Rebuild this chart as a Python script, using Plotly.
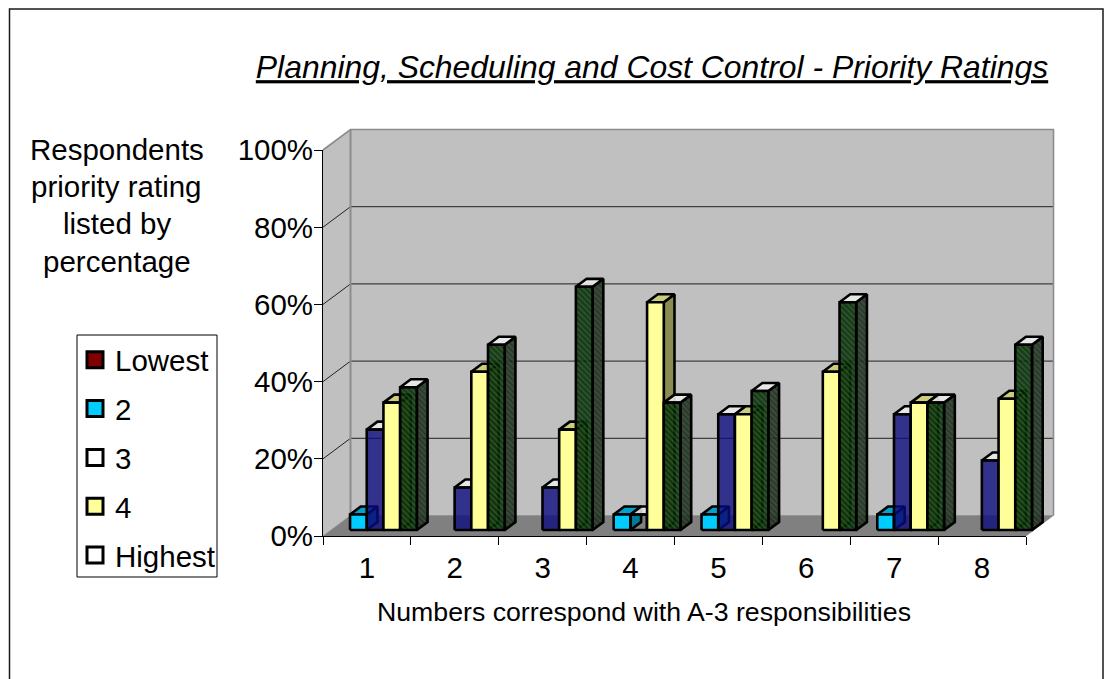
import plotly.graph_objects as go

# Chart content
title_text = "Planning, Scheduling and Cost Control - Priority Ratings"
y_title_lines = ["Respondents", "priority rating", "listed by", "percentage"]
x_title_text = "Numbers correspond with A-3 responsibilities"
categories = ["1", "2", "3", "4", "5", "6", "7", "8"]
pct_ticks = [0, 20, 40, 60, 80, 100]
series_names = ["Lowest", "2", "3", "4", "Highest"]

# Percentage of respondents per responsibility; None means no bar
lowest = [None] * 8
rating_2 = [4, None, None, 4, 4, None, 4, None]
rating_3 = [26, 11, 11, None, 30, None, 30, 18]
rating_3_hollow = [None, None, None, 4, None, None, None, None]
rating_4 = [33, 41, 26, 59, 30, 41, 33, 34]
highest = [37, 48, 63, 33, 36, 59, 33, 48]

FONT = "Liberation Sans"
W, H = 1104, 679

# Pixel placement of the front plane of the 3-D box
LEFT, RIGHT, BOTTOM, TOP = 323, 1026, 536, 150
px_per_cat = (RIGHT - LEFT) / len(categories)
px_per_pct = (BOTTOM - TOP) / 100

# Depth of the box, in axis units
DEPTH_X = 27.5 / px_per_cat
DEPTH_Y = 20.5 / px_per_pct

# Bars sit part way into the box
BAR_W = 16.7 / px_per_cat
BAR_START = 0.026
BAR_D0 = 0.293
BAR_D1 = 0.683
EDGE = 2.6


def proj(x, pct, d=0.0):
    """Oblique projection of a point at depth d (0 front, 1 back)."""
    return x + d * DEPTH_X, pct + d * DEPTH_Y


def polys(shapes):
    """Join polygons into one coordinate pair, separated by gaps."""
    xs, ys = [], []
    for shape in shapes:
        closed = list(shape) + [shape[0]]
        xs += [p[0] for p in closed] + [None]
        ys += [p[1] for p in closed] + [None]
    return xs, ys


fig = go.Figure()


def face(shapes, fill, line="#000000", width=EDGE, pattern=None):
    xs, ys = polys(shapes)
    fig.add_trace(go.Scatter(
        x=xs, y=ys, mode="lines", fill="toself", fillcolor=fill,
        fillpattern=pattern, line=dict(color=line, width=width),
        hoverinfo="skip", showlegend=False,
    ))


def wire(points, color, width):
    fig.add_trace(go.Scatter(
        x=[p[0] for p in points], y=[p[1] for p in points], mode="lines",
        line=dict(color=color, width=width), hoverinfo="skip", showlegend=False,
    ))


# Walls and floor
n = len(categories)
face([[proj(0, 0), proj(0, 0, 1), proj(0, 100, 1), proj(0, 100)]], "#c0c0c0", "#c0c0c0", 0.5)
face([[proj(0, 0, 1), proj(n, 0, 1), proj(n, 100, 1), proj(0, 100, 1)]], "#c0c0c0", "#c0c0c0", 0.5)
face([[proj(0, 0), proj(n, 0), proj(n, 0, 1), proj(0, 0, 1)]], "#808080", "#808080", 0.5)

for t in pct_ticks[1:-1]:
    wire([proj(0, t), proj(0, t, 1), proj(n, t, 1)], "#222222", 1)

wire([proj(0, 100), proj(0, 100, 1), proj(n, 100, 1), proj(n, 0, 1)], "#8c8c8c", 1.6)
wire([proj(0, 100, 1), proj(0, 0, 1)], "#8c8c8c", 2)


def bar_faces(values, slot):
    """Front, side and top polygons for one series."""
    base = 6 / px_per_pct - BAR_D0 * DEPTH_Y
    front, side, top = [], [], []
    for g, v in enumerate(values):
        if v is None:
            continue
        x0 = g + BAR_START + slot * BAR_W
        x1 = x0 + BAR_W
        y0, y1 = base, base + v
        front.append([proj(x0, y0, BAR_D0), proj(x1, y0, BAR_D0), proj(x1, y1, BAR_D0), proj(x0, y1, BAR_D0)])
        side.append([proj(x1, y0, BAR_D0), proj(x1, y0, BAR_D1), proj(x1, y1, BAR_D1), proj(x1, y1, BAR_D0)])
        top.append([proj(x0, y1, BAR_D0), proj(x1, y1, BAR_D0), proj(x1, y1, BAR_D1), proj(x0, y1, BAR_D1)])
    return front, side, top


stripe_front = dict(shape="\\", size=4, solidity=0.3, fgcolor="#3f7a3f", fgopacity=0.6,
                    bgcolor="rgba(0,35,0,0.86)", fillmode="replace")
stripe_side = dict(shape="\\", size=4, solidity=0.3, fgcolor="#4f6f4f", fgopacity=0.5,
                   bgcolor="rgba(25,40,25,0.88)", fillmode="replace")

# Series are painted left to right so nearer faces overlap earlier ones
front, side, top = bar_faces(rating_2, 1)
face(side, "#007a99")
face(top, "#00a3cc")
face(front, "#00ccff")

front, side, top = bar_faces(rating_3_hollow, 2)
face(side, "rgba(0,0,0,0)")
face(top, "rgba(235,235,235,0.85)")
face(front, "rgba(0,0,0,0)")

front, side, top = bar_faces(rating_3, 2)
face(side, "rgba(0,0,90,0.8)")
face(top, "rgba(235,235,235,0.9)")
face(front, "rgba(10,10,125,0.78)")

front, side, top = bar_faces(rating_4, 3)
face(side, "#8c8c52")
face(top, "#cccc7a")
face(front, "#ffff99")

front, side, top = bar_faces(highest, 4)
face(side, "rgba(25,40,25,0.88)", pattern=stripe_side)
face(top, "rgba(235,235,235,0.9)")
face(front, "rgba(0,35,0,0.86)", pattern=stripe_front)

# Legend entries; these traces also carry the visible axes
swatches = ["#800000", "#00ccff", "#ffffff", "#ffff99", "#ffffff"]
for name, color in zip(series_names, swatches):
    fig.add_trace(go.Scatter(
        x=[None], y=[None], xaxis="x2", yaxis="y2", mode="markers", name=name,
        legendgroup=name,
        marker=dict(symbol="square", size=16, color=color, line=dict(color="#000000", width=3)),
    ))

axis_font = dict(family=FONT, size=29.5, color="#000000")

# The multi-line axis caption is set line by line for its tighter leading
caption_rows = [149, 186.5, 224, 261]
captions = [
    dict(xref="paper", yref="paper", x=116.5 / W, y=1 - row / H, xanchor="center", yanchor="middle",
         text=line, showarrow=False, font=axis_font)
    for line, row in zip(y_title_lines, caption_rows)
]

fig.update_layout(
    width=W, height=H, margin=dict(l=0, r=0, t=0, b=0, autoexpand=False),
    paper_bgcolor="#ffffff", plot_bgcolor="rgba(0,0,0,0)",
    font=axis_font,
    title=dict(
        text=title_text, x=652 / W, xanchor="center", xref="paper",
        y=1 - 67 / H, yanchor="middle", yref="paper",
        font=dict(family=FONT, size=31.9, color="#000000", style="italic", lineposition="under"),
    ),
    xaxis=dict(visible=False, domain=[0, 1],
               range=[-LEFT / px_per_cat, (W - LEFT) / px_per_cat]),
    yaxis=dict(visible=False, domain=[0, 1],
               range=[-(H - BOTTOM) / px_per_pct, BOTTOM / px_per_pct]),
    xaxis2=dict(
        domain=[LEFT / W, RIGHT / W], range=[0, n], anchor="y2", showgrid=False, zeroline=False,
        showline=True, linecolor="#000000", linewidth=1,
        tickmode="array", tickvals=[i + 0.5 for i in range(n)], ticktext=categories,
        ticks="", tickfont=axis_font, ticklabelstandoff=6,
        minor=dict(tickmode="array", tickvals=list(range(n + 1)), ticks="outside",
                   ticklen=8, tickcolor="#000000", tickwidth=1, showgrid=False),
    ),
    yaxis2=dict(
        domain=[1 - BOTTOM / H, 1 - TOP / H], range=[0, 100], anchor="x2", showgrid=False, zeroline=False,
        showline=True, linecolor="#000000", linewidth=1,
        tickmode="array", tickvals=pct_ticks, ticktext=[f"{t}%" for t in pct_ticks],
        ticks="outside", ticklen=8, tickcolor="#000000", tickwidth=1, tickfont=axis_font,
        ticklabelstandoff=-5,
    ),
    legend=dict(
        x=75 / W, xanchor="left", y=1 - 334 / H, yanchor="top",
        bgcolor="rgba(0,0,0,0)", borderwidth=0, tracegroupgap=7.5,
        font=axis_font, itemsizing="trace", itemclick=False, itemdoubleclick=False,
    ),
    showlegend=True,
    shapes=[
        dict(type="rect", xref="paper", yref="paper", x0=9.5 / W, x1=1103 / W, y0=-0.01, y1=1 - 9 / H,
             line=dict(color="#1a1a1a", width=1.5), layer="below"),
        dict(type="rect", xref="paper", yref="paper", x0=77 / W, x1=217 / W, y0=1 - 577 / H, y1=1 - 335 / H,
             line=dict(color="#000000", width=1), layer="below"),
    ],
    annotations=captions + [
        dict(xref="paper", yref="paper", x=643.5 / W, y=1 - 612 / H, xanchor="center", yanchor="middle",
             text=x_title_text, showarrow=False, font=dict(family=FONT, size=26.7, color="#000000")),
    ],
)

fig.write_html("out.html")
